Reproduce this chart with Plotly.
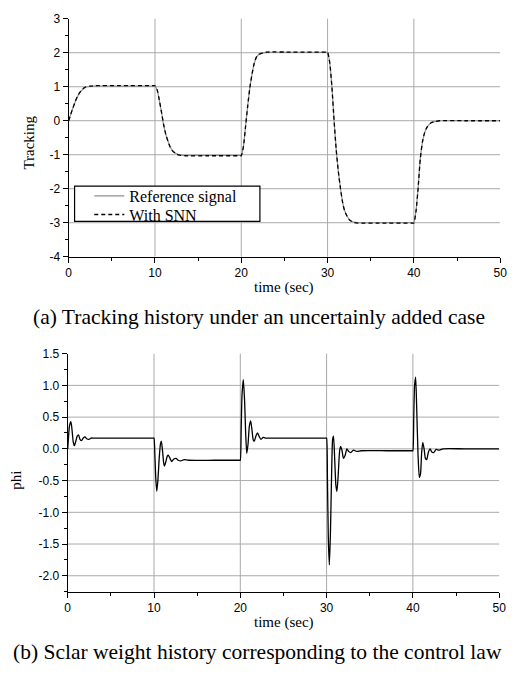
import plotly.graph_objects as go

# ---------------- data ----------------
track_t = [0, 0.25, 0.5, 0.75, 1.0, 1.25, 1.5, 1.75, 2.0, 2.5, 3.0, 6.0, 9.9,
           10.0, 10.25, 10.5, 10.75, 11.0, 11.25, 11.5, 11.75, 12.0, 12.5, 13.0, 13.5, 16.0, 19.9,
           20.0, 20.25, 20.5, 20.75, 21.0, 21.25, 21.5, 21.75, 22.0, 22.5, 23.0, 26.0, 29.9,
           30.0, 30.25, 30.5, 30.75, 31.0, 31.25, 31.5, 31.75, 32.0, 32.5, 33.0, 33.5, 36.0, 39.9,
           40.0, 40.25, 40.5, 40.75, 41.0, 41.25, 41.5, 42.0, 42.5, 43.0, 46.0, 50.0]
reference_signal = [0, 0.2, 0.38, 0.55, 0.7, 0.81, 0.89, 0.95, 0.99, 1.01, 1.02, 1.02, 1.02,
                    1.02, 0.9, 0.6, 0.25, -0.12, -0.4, -0.6, -0.76, -0.87, -0.97, -1.01, -1.02, -1.02, -1.02,
                    -1.02, -0.75, -0.15, 0.45, 0.98, 1.38, 1.68, 1.86, 1.94, 1.99, 2.01, 2.01, 2.01,
                    2.01, 1.7, 1.0, 0.02, -0.85, -1.5, -2.0, -2.4, -2.66, -2.9, -2.98, -3.0, -3.0, -3.0,
                    -3.0, -2.65, -1.95, -1.1, -0.62, -0.35, -0.2, -0.06, -0.02, 0.0, 0.0, 0.0]
with_snn = [0, 0.2, 0.38, 0.56, 0.71, 0.82, 0.9, 0.96, 1.0, 1.02, 1.03, 1.03, 1.03,
            1.03, 0.91, 0.61, 0.26, -0.11, -0.4, -0.6, -0.77, -0.88, -0.98, -1.02, -1.03, -1.03, -1.03,
            -1.03, -0.76, -0.16, 0.45, 0.98, 1.38, 1.69, 1.87, 1.95, 2.0, 2.02, 2.02, 2.02,
            2.02, 1.71, 1.0, 0.02, -0.85, -1.5, -2.0, -2.41, -2.67, -2.91, -2.99, -3.01, -3.01, -3.01,
            -3.01, -2.66, -1.96, -1.1, -0.62, -0.35, -0.2, -0.06, -0.02, 0.0, 0.0, 0.0]

phi_t = [0, 0.1, 0.2, 0.37, 0.5, 0.65, 0.78, 0.92, 1.1, 1.25, 1.42, 1.6, 1.8, 2.0, 2.2, 2.45, 2.7, 3.0, 6.0, 9.95,
         10.0, 10.1, 10.2, 10.32, 10.45, 10.6, 10.75, 10.85, 11.0, 11.12, 11.22, 11.38, 11.55, 11.65, 11.85, 12.05, 12.3, 12.55, 12.8, 13.1, 13.5, 14.0, 17.0, 19.95,
         20.0, 20.1, 20.2, 20.35, 20.5, 20.62, 20.75, 20.9, 21.05, 21.2, 21.35, 21.5, 21.62, 21.8, 22.0, 22.2, 22.4, 22.65, 22.9, 26.0, 29.95,
         30.0, 30.1, 30.2, 30.32, 30.45, 30.58, 30.7, 30.8, 30.95, 31.08, 31.2, 31.35, 31.5, 31.62, 31.78, 31.95, 32.15, 32.35, 32.55, 32.8, 33.1, 33.5, 34.0, 37.0, 39.95,
         40.0, 40.1, 40.2, 40.32, 40.45, 40.6, 40.75, 40.88, 41.02, 41.15, 41.3, 41.45, 41.6, 41.8, 42.0, 42.2, 42.4, 42.7, 43.0, 43.5, 46.0, 50.0]
phi = [0.0, 0.2, 0.36, 0.43, 0.3, 0.1, 0.05, 0.11, 0.2, 0.22, 0.15, 0.13, 0.17, 0.19, 0.16, 0.15, 0.17, 0.17, 0.17, 0.17,
       0.17, -0.1, -0.45, -0.67, -0.5, -0.15, 0.08, 0.12, -0.05, -0.22, -0.27, -0.2, -0.11, -0.1, -0.15, -0.2, -0.16, -0.15, -0.18, -0.19, -0.17, -0.18, -0.18, -0.18,
       -0.18, 0.3, 0.85, 1.09, 0.75, 0.25, -0.07, 0.08, 0.36, 0.44, 0.3, 0.14, 0.12, 0.2, 0.25, 0.19, 0.15, 0.18, 0.17, 0.17, 0.17,
       0.17, -0.5, -1.4, -1.83, -1.3, -0.4, 0.15, 0.2, -0.2, -0.58, -0.67, -0.4, -0.05, 0.04, -0.02, -0.15, -0.1, 0.0, -0.04, -0.06, -0.02, -0.04, -0.03, -0.03, -0.03,
       -0.03, 0.5, 1.0, 1.13, 0.6, -0.1, -0.45, -0.4, -0.05, 0.1, 0.0, -0.15, -0.17, -0.05, 0.0, -0.05, -0.06, -0.01, -0.02, 0.0, 0.0, 0.0]

x_ticks = [0, 10, 20, 30, 40, 50]
x_minor = [5, 15, 25, 35, 45]
top_y_ticks = [-4, -3, -2, -1, 0, 1, 2, 3]
top_y_minor = [-3.5, -2.5, -1.5, -0.5, 0.5, 1.5, 2.5]
bot_y_ticks = [-2.0, -1.5, -1.0, -0.5, 0.0, 0.5, 1.0, 1.5]
bot_y_minor = [-2.25, -1.75, -1.25, -0.75, -0.25, 0.25, 0.75, 1.25]
x_grid = [10, 20, 30, 40]
top_y_grid = [-3, -2, -1, 0, 1, 2]
bot_y_grid = [-2.0, -1.5, -1.0, -0.5, 0.0, 0.5, 1.0]

caption_a = "(a) Tracking history under an uncertainly added case"
caption_b = "(b) Sclar weight history corresponding to the control law"

# ---------------- figure ----------------
W, H = 515, 675
SERIF = "Liberation Serif, Times New Roman, serif"
SANS = "Liberation Sans, Arial, sans-serif"


def px_x(p):
    return p / W


def px_y(p):
    return 1 - p / H


fig = go.Figure()
fig.add_trace(go.Scatter(x=track_t, y=reference_signal, name="Reference signal", mode="lines",
                         line=dict(color="#8f8f8f", width=1.2, shape="spline", smoothing=0.6),
                         xaxis="x", yaxis="y", legend="legend"))
fig.add_trace(go.Scatter(x=track_t, y=with_snn, name="With SNN", mode="lines",
                         line=dict(color="black", width=1.3, dash="4px,3px", shape="spline", smoothing=0.6),
                         xaxis="x", yaxis="y", legend="legend2"))
fig.add_trace(go.Scatter(x=phi_t, y=phi, name="phi", mode="lines", showlegend=False,
                         line=dict(color="black", width=1.3, shape="spline", smoothing=0.6),
                         xaxis="x2", yaxis="y2"))

axis_common = dict(showline=True, linecolor="black", linewidth=1.2, showgrid=False, zeroline=False,
                   ticks="outside", ticklen=5, tickwidth=1, tickcolor="black",
                   ticklabeloverflow="allow",
                   tickfont=dict(family=SANS, size=12, color="black"))


def minor(vals):
    return dict(tickmode="array", tickvals=vals, ticks="outside", ticklen=3,
                tickcolor="black", showgrid=False)


legend_common = dict(xanchor="left", yanchor="middle", bgcolor="rgba(0,0,0,0)", borderwidth=0,
                     font=dict(family=SERIF, size=16, color="black"))

fig.update_layout(
    width=W, height=H, margin=dict(l=0, r=0, t=0, b=0),
    plot_bgcolor="white", paper_bgcolor="white",
    xaxis=dict(domain=[px_x(67), px_x(507)], range=[0, 50], anchor="y",
               tickmode="array", tickvals=x_ticks, ticktext=[str(v) for v in x_ticks],
               minor=minor(x_minor), **axis_common),
    yaxis=dict(domain=[px_y(255), px_y(12)], range=[-4, 3], anchor="x",
               tickmode="array", tickvals=top_y_ticks, ticktext=[str(v) for v in top_y_ticks],
               minor=minor(top_y_minor), **axis_common),
    xaxis2=dict(domain=[px_x(66), px_x(506)], range=[0, 50], anchor="y2",
                tickmode="array", tickvals=x_ticks, ticktext=[str(v) for v in x_ticks],
                minor=minor(x_minor), **axis_common),
    yaxis2=dict(domain=[px_y(597), px_y(354)], range=[-2.25, 1.5], anchor="x2",
                tickmode="array", tickvals=bot_y_ticks, ticktext=["%.1f" % v for v in bot_y_ticks],
                minor=minor(bot_y_minor), **axis_common),
    showlegend=True,
    legend=dict(x=px_x(88), y=px_y(193), **legend_common),
    legend2=dict(x=px_x(88), y=px_y(212), **legend_common),
)

shapes = []
GRID = "#aaaaaa"
for xv in x_grid:
    for xr, yr in (("x", "y domain"), ("x2", "y2 domain")):
        shapes.append(dict(type="line", xref=xr, yref=yr, x0=xv, x1=xv, y0=0, y1=1,
                           line=dict(color=GRID, width=1), layer="below"))
for yv in top_y_grid:
    shapes.append(dict(type="line", xref="x domain", yref="y", x0=0, x1=1, y0=yv, y1=yv,
                       line=dict(color=GRID, width=1), layer="below"))
for yv in bot_y_grid:
    shapes.append(dict(type="line", xref="x2 domain", yref="y2", x0=0, x1=1, y0=yv, y1=yv,
                       line=dict(color=GRID, width=1), layer="below"))
# legend frame
shapes.append(dict(type="rect", xref="paper", yref="paper", x0=px_x(73), x1=px_x(262),
                   y0=px_y(219), y1=px_y(183), line=dict(color="black", width=1.2),
                   fillcolor="white", layer="above"))
fig.update_layout(shapes=shapes)

annots = [
    dict(text="time (sec)", x=px_x(287), y=px_y(286), font=dict(family=SERIF, size=15)),
    dict(text="time (sec)", x=px_x(287), y=px_y(629), font=dict(family=SERIF, size=15)),
    dict(text="Tracking", x=px_x(27), y=px_y(138), textangle=-90, font=dict(family=SERIF, size=15)),
    dict(text="phi", x=px_x(13), y=px_y(483), textangle=-90, font=dict(family=SERIF, size=15)),
    dict(text=caption_a, x=px_x(261), y=px_y(317), font=dict(family=SERIF, size=21.5)),
    dict(text=caption_b, x=px_x(260), y=px_y(659), font=dict(family=SERIF, size=21.5)),
]
for a in annots:
    a.update(xref="paper", yref="paper", showarrow=False, xanchor="center", yanchor="middle")
    a["font"]["color"] = "black"
fig.update_layout(annotations=annots)

fig.write_html("out.html", config={"displayModeBar": False},
               post_script="document.body.style.margin='0px';document.body.style.overflow='hidden';")
